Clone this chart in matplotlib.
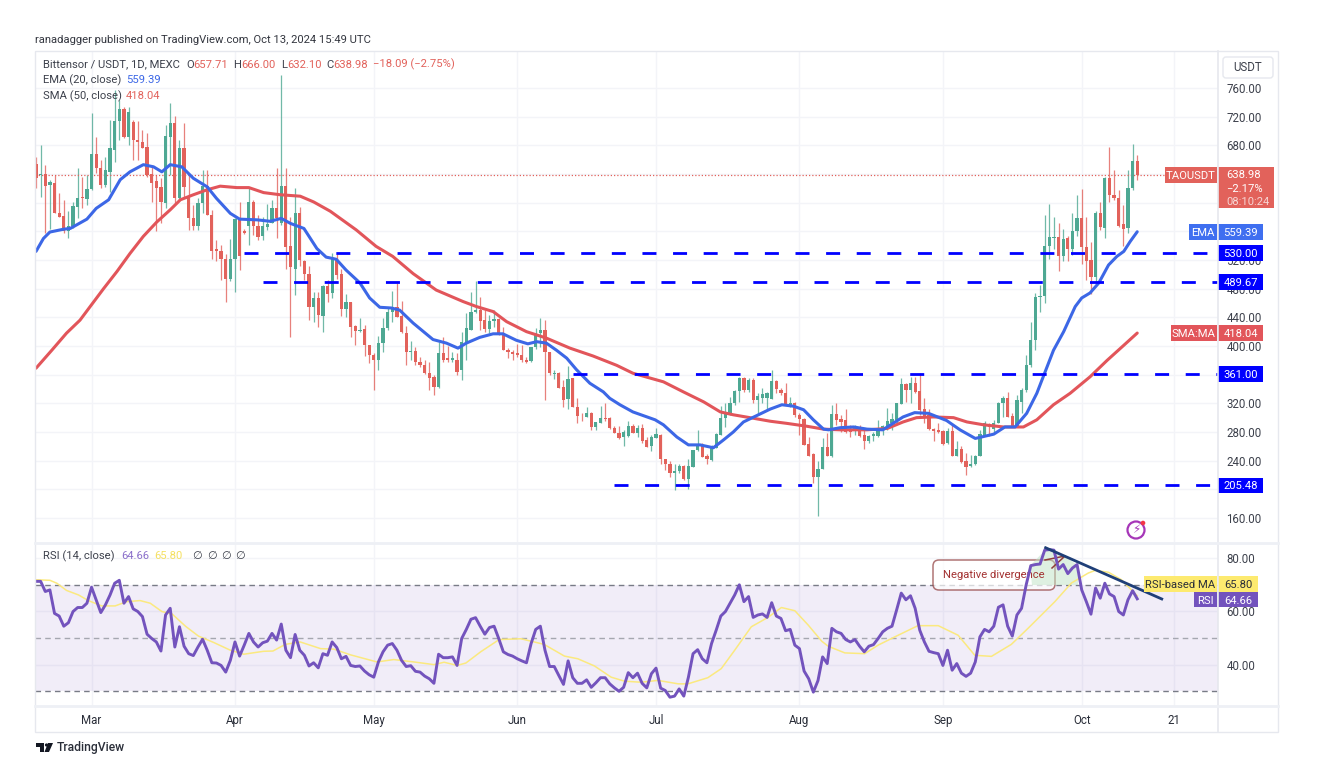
import pandas as pd
import matplotlib
matplotlib.use("Agg")
import matplotlib.pyplot as plt
from matplotlib.patches import Rectangle, FancyBboxPatch, Circle, Polygon
from matplotlib.transforms import blended_transform_factory

plt.rcParams['font.family'] = ['Roboto', 'DejaVu Sans']

start = pd.Timestamp("2024-02-18")

opens = [654,638,640,624,628,585,581,560,567,594,
         608,605,619,668,648,625,643,673,714,730,
         691,713,688,685,677,640,630,622,600,691,
         711,607,676,606,579,568,599,623,583,535,
         533,521,494,521,577,560,568,601,568,553,
         566,571,592,572,623,539,507,586,519,501,
         455,467,442,484,474,520,500,451,461,428,
         421,424,401,388,380,404,425,447,454,442,
         418,392,393,377,374,363,357,343,390,383,
         380,381,366,406,423,447,450,436,424,435,
         437,418,394,392,390,387,381,379,398,418,
         423,391,361,362,343,326,355,315,303,301,
         306,287,293,300,300,286,279,273,274,288,
         279,285,269,260,271,276,243,236,223,225,
         232,215,231,255,261,247,241,258,276,300,
         306,320,337,356,339,352,324,327,327,326,
         351,339,335,318,321,304,298,263,249,217,
         229,259,247,305,298,297,284,283,285,276,
         267,274,274,283,288,293,297,319,347,339,
         349,337,312,304,284,283,281,264,281,247,
         256,239,232,235,246,276,290,284,292,320,
         328,302,288,322,338,374,408,469,470,540,
         550,552,525,550,535,560,578,538,520,496,
         585,564,635,611,607,570,564,620,657.71]
highs = [664,680,653,631,639,613,604,589,601,648,
         636,639,725,692,659,664,715,757,743,734,
         734,715,714,701,697,650,639,634,708,739,
         721,687,711,639,597,606,646,645,590,548,
         541,528,549,578,601,563,620,603,583,580,
         598,604,648,778,649,580,620,594,520,511,
         476,476,485,492,530,529,507,472,461,429,
         439,429,401,390,414,439,455,477,488,463,
         428,407,399,385,381,378,360,406,413,400,
         392,390,420,446,476,490,468,450,443,450,
         439,427,397,394,403,402,385,399,425,439,
         436,392,367,364,353,372,355,327,306,315,
         308,294,316,321,301,288,288,283,295,291,
         290,291,273,276,285,277,243,239,236,235,
         234,243,255,283,264,249,262,279,316,320,
         329,338,357,357,355,355,334,341,336,367,
         353,342,348,329,322,307,299,273,250,239,
         271,278,318,320,304,312,290,290,290,283,
         276,280,297,290,313,306,321,356,349,357,
         357,363,327,312,285,293,283,285,290,268,
         260,250,248,248,283,296,293,297,322,330,
         336,307,332,342,387,433,474,485,583,598,
         580,572,563,553,586,610,619,580,545,588,
         601,636,678,645,618,597,645,682,666]
lows = [620,608,558,563,585,580,558,550,564,578,
        592,597,618,641,620,622,615,657,687,690,
        680,659,660,676,636,601,561,571,592,639,
        599,604,608,562,562,562,585,583,521,518,
        492,462,490,476,506,556,541,555,548,548,
        562,571,550,569,508,413,471,511,492,436,
        434,427,419,462,467,494,442,441,413,401,
        420,386,376,339,367,392,422,434,440,418,
        374,381,374,371,361,339,331,341,378,377,
        377,359,353,381,422,446,422,420,418,427,
        415,394,383,380,385,378,376,378,396,399,
        325,360,354,341,315,312,315,293,296,301,
        283,283,292,296,284,278,270,260,273,278,
        273,265,259,253,271,236,227,217,199,223,
        213,201,231,254,245,236,240,257,276,287,
        304,318,322,336,336,320,304,320,311,326,
        334,332,318,315,301,276,262,246,209,163,
        228,246,245,290,280,279,273,276,273,256,
        265,268,273,276,283,283,292,319,322,320,
        334,304,293,283,268,279,262,263,247,246,
        237,220,231,234,246,274,274,279,292,301,
        301,287,288,307,336,370,394,447,460,521,
        536,504,519,519,527,553,514,492,473,488,
        562,550,601,604,566,539,558,618,632.1]
closes = [635,640,623,629,585,580,560,567,595,607,
          606,619,668,649,624,645,676,714,730,691,
          726,687,685,676,639,628,620,601,693,711,
          607,676,622,578,568,600,623,583,532,532,
          521,494,521,577,525,558,601,568,552,568,
          570,592,578,623,538,510,586,520,500,455,
          467,443,484,472,522,499,451,461,427,421,
          423,401,388,380,404,425,447,455,440,419,
          392,393,377,374,363,356,343,390,381,381,
          383,364,406,425,447,450,435,424,435,438,
          418,395,391,389,387,380,378,398,418,423,
          392,362,362,342,325,354,315,302,302,306,
          287,294,299,298,285,278,272,280,288,279,
          285,267,259,273,277,242,235,223,226,232,
          215,232,255,262,245,242,258,277,300,306,
          320,337,356,338,352,324,330,333,335,351,
          340,334,318,321,304,298,262,247,217,229,
          259,247,305,297,294,280,280,285,274,267,
          274,277,284,288,295,298,320,347,339,349,
          336,311,302,284,282,280,263,281,247,256,
          238,231,235,247,277,292,287,293,320,327,
          301,288,324,339,374,408,469,470,540,552,
          552,525,549,535,560,578,538,519,496,586,
          566,635,610,606,568,563,621,658,638.98]

ema_x = [0,1.6,3,6,7.4,11,13,15.7,18.2,20.3,23.2,25.4,27.2,29,31.5,34,37,39,42,44,47.8,50.6,53,55,
         57.9,60.7,62.7,64.9,67,70,72.1,74.3,76.8,78.6,81.5,85.8,88.7,91.2,93,95.9,98.8,100.9,103.8,
         106.3,108.2,110.3,112.5,114.7,116.8,119.7,122.6,124,126.2,129,133.8,135.6,138.5,141,143.5,
         146.4,148.6,150.7,152.9,155.8,158.7,161.2,163.7,165.9,168,170.2,171.3,173.8,176.7,179.6,183,
         187.4,189.9,192.9,196.8,199.7,203,207,209.4,211.6,214.1,216.3,218.1,219.9,222.1,224.6,226,
         227.8,229.7,231.8,233.6,235.1,236.5,238]
ema_y = [532,550,559,563,564,577,592,604,632,643,653,650,643,653,650,634,622,606,585,577,576,574,578,571,
         564,536,524,521,506,488,467,454,453,450,432,409,404,397,404,412,417,417,408,
         403,406,404,394,383,367,348,336,327,318,308,297,290,273,262,262,
         258,269,280,294,303,312,318,316,311,297,284,283,286,287,284,283,
         301,307,306,296,283,271,277,287,287,306,334,364,394,420,455,467,
         474,488,513,525,532,546,559.39]
sma_x = [0,3.4,6.6,9.5,11.7,14.6,17.5,20.3,23.2,26.1,29,31.2,34,37,39.8,43.4,46,49.2,52.8,57.1,60,63.6,
         69.2,73.5,77.1,81.5,86.5,92.3,95.2,98.8,101.7,106,110.3,115.4,120.4,125.5,129,135.6,139.9,
         144.3,147.9,150.7,154.3,158.7,162.3,166.6,170.2,173.8,179.6,184,187.4,190.3,193.9,198.3,201.2,
         204.8,209.1,213.4,216.3,219.9,223.5,227.8,231.5,235.1,238]
sma_y = [369,394,418,436,455,480,504,529,553,573,590,604,611,618,623,621,621,614,611,609,601,588,
         562,539,525,501,478,462,455,448,434,420,411,397,386,373,362,350,336,
         322,308,304,300,295,292,288,284,283,283,285,294,300,301,300,294,
         290,287,287,297,318,334,357,380,401,418.04]

rsi_vals = [71.2,71.2,67.4,68,59.2,58.2,54.4,55.7,59.9,61.4,
            61.4,63,69,64.3,59.5,62.4,66.1,70.5,71.6,63,
            65.5,60.9,59.9,58,51.4,49.8,48.5,45.1,58.6,61.1,
            46.6,54.2,46.9,44.1,43.4,46.6,49.5,45.4,40.7,40.6,
            39.7,37.2,41.6,48.5,43.2,47.3,51.7,48.5,46.6,48.2,
            48.8,51.7,49.2,55.2,45.4,42.6,51.3,45.4,43.5,39.5,
            40.7,38.8,44.1,43.5,48.5,46.4,42.2,43.1,39.7,39.3,
            39.5,37.6,36.2,35.3,41,44.8,47.3,47.9,45.4,41.6,
            39.3,39.6,37.5,37.2,35.7,34.7,33,43.9,42.6,42.6,
            42.9,39.7,49.8,53.2,57,57.6,54.4,51.4,53.9,54.4,
            49.8,44.8,43.8,43.2,42.2,41.4,40.7,47.9,53.2,54.4,
            45.4,39.3,39.3,35.9,32.6,41.4,35.1,33,33,34.3,
            31.5,33.2,35.1,35.1,32.8,31.3,30,31.5,37,35.1,
            36.8,33,31.3,36.6,38.7,31.2,30.3,27.8,28.2,30.9,
            28.2,35.3,44.1,45.6,42.2,40.7,47.9,52.9,58.2,59.9,
            63,66.1,69.9,63.6,65.5,57.7,58.6,59,57.7,63.2,
            58.2,57.3,52.7,53.2,47.3,46,37.6,34.7,29.7,34,
            42.9,40.4,53.6,52.3,51.7,49.4,48.5,49.4,46.9,44.8,
            46.9,47.5,49.8,52.3,53.6,54.4,60.5,66.8,64.3,65.8,
            61.1,52.9,48.5,45,44.5,44.1,39.7,45.4,37.9,40.4,
            36.8,35.6,36.8,41,50.4,53.2,52.3,54.4,61.5,62.4,
            54.4,50.7,58.6,61.1,69.9,77.1,77.5,77.7,82.9,83.1,
            82.9,75.8,77.5,74.1,76.2,77.5,68,63.6,58.9,68.7,
            64.9,70.5,66.5,65.5,59.9,58.6,64.3,67.7,64.66]
rsi_ma_x = [0,3,4.5,6.6,9.2,11.3,14.2,17.1,19.6,22.5,24.7,27.2,29.4,32.3,35.1,38.4,42,44.9,49.2,51.2,53.9,
            57.1,61.5,64.4,67.9,73.7,77.3,81.7,86,88.2,91,92.9,96.1,100.1,104.8,109.8,114.2,117.1,120.7,
            124.3,127.2,130.8,134.4,138.8,140.9,145.2,148.1,151,154.6,158.2,161.1,164,166.9,169.8,171.2,
            174.8,179.1,182,185.6,190.6,195,199.3,202.9,206.5,210.8,214.4,220.2,223.8,227.4,228.9,231.8,
            234.6,238]
rsi_ma_y = [71.8,71.6,70.5,67.8,66.1,64,62,62,63.6,64,63,59.9,59,54.4,50.7,48.3,45.4,43.9,45,45.1,47.6,
            48.5,46,45.8,43.7,41,41.9,41,40,40.9,39.7,40.6,44.8,49.4,49.7,47.6,43.2,42.2,39.5,
            35.3,33.8,33.4,34.1,32.8,32.8,35.1,38.5,45.4,54.2,57.7,61.4,60.2,54.8,48.8,46.9,
            44.4,44.1,47.3,50.4,54.6,54.6,51,43.5,43.1,47.6,53.6,63.6,70.6,74.3,75.3,74.6,
            71.8,65.8]
trend_x = [218.2,243.3]
trend_y = [83.8,64.6]

levels = [530.00,489.67,361.00,205.48]
level_starts = ["2024-04-03","2024-04-07","2024-06-13","2024-06-22"]
price_ticks = list(range(160,800,40))
hidden_ticks = [200,360,560,600,640]
rsi_ticks = [40,60,80]
month_ticks = ["2024-03-01","2024-04-01","2024-05-01","2024-06-01","2024-07-01","2024-08-01","2024-09-01","2024-10-01","2024-10-21"]
month_labels = ["Mar","Apr","May","Jun","Jul","Aug","Sep","Oct","21"]

GREEN = "#4ea893"
RED = "#e2625b"
BLUE = "#3c67e6"
SMARED = "#e2555a"
GRID = "#f3f4f8"
TXT = "#3d414c"
FS = 8.1
W, H = 1322, 764

def box(l, t, r, b):
    return [l/W, 1-b/H, (r-l)/W, (b-t)/H]

def day(s):
    return (pd.Timestamp(s)-start).days

fig = plt.figure(figsize=(W/100, H/100), dpi=100, facecolor="white")
ax = fig.add_axes(box(35, 52, 1218, 542))
rsi = fig.add_axes(box(35, 544, 1218, 706), sharex=ax)
over = fig.add_axes([0, 0, 1, 1], zorder=10)
over.set_xlim(0, W)
over.set_ylim(H, 0)
over.axis("off")
over.patch.set_alpha(0)

n = len(closes)
xs = list(range(n))
up = [c >= o for o, c in zip(opens, closes)]
cols = [GREEN if u else RED for u in up]
ax.vlines(xs, lows, highs, colors=cols, lw=0.9, alpha=0.8, zorder=2)
ax.bar(xs, [abs(c-o) for o, c in zip(opens, closes)], bottom=[min(o, c) for o, c in zip(opens, closes)],
       width=0.7, color=cols, zorder=3)
ax.plot(sma_x, sma_y, color=SMARED, lw=2.2, zorder=4, solid_capstyle="round")
ax.plot(ema_x, ema_y, color=BLUE, lw=2.2, zorder=5, solid_capstyle="round")
ax.axhline(closes[-1], color=RED, lw=0.9, ls=(0, (1, 1.6)), zorder=2)
for lv, st in zip(levels, level_starts):
    ax.hlines(lv, day(st), 256, color="#0000ff", lw=2, linestyles=[(0, (5.04, 5.98))], zorder=6)

ax.set_ylim(126.5, 810.2)
ax.set_xlim(-0.22, (1218-36)/4.627)
ax.set_yticks(price_ticks)
# these labels are fully covered by the price tags in the picture
ax.set_yticklabels(["" if t in hidden_ticks else "%.2f" % t for t in price_ticks])

rsi.axhspan(30, 70, color="#9575cd", alpha=0.13, lw=0, zorder=1)
rsi.axhline(70, color="#787b86", lw=1, ls=(0, (4, 3)), zorder=2)
rsi.axhline(50, color="#a5a7b0", lw=1, ls=(0, (4, 3)), zorder=2)
rsi.axhline(30, color="#787b86", lw=1, ls=(0, (4, 3)), zorder=2)
rsi.plot(rsi_ma_x, rsi_ma_y, color="#fbe97f", lw=1.1, zorder=5)
rsi.plot(xs, rsi_vals, color="#7353bd", lw=2.1, zorder=6)
rsi.plot(trend_x, trend_y, color="#1f3f78", lw=2, zorder=7)
rsi.set_ylim(24.5, 85.2)
rsi.set_yticks(rsi_ticks)
rsi.set_yticklabels(["%.2f" % t for t in rsi_ticks])
rsi.set_xticks([day(m) for m in month_ticks])
rsi.set_xticklabels(month_labels)

for a in (ax, rsi):
    a.grid(True, color=GRID, lw=1)
    a.set_axisbelow(True)
    a.yaxis.tick_right()
    a.tick_params(axis="both", length=0, labelsize=FS+0.2, labelcolor=TXT, pad=6)
    for s in a.spines.values():
        s.set_visible(False)
ax.tick_params(axis="x", labelbottom=False)
rsi.tick_params(axis="x", pad=6, labelcolor="#2a2e39")

# frame and pane separators
over.add_patch(Rectangle((35, 51), 1243, 681, fill=False, ec="#e6e8ee", lw=1))
over.plot([1218, 1218], [51, 732], color="#e6e8ee", lw=1.2)
over.plot([35, 1278], [543, 543], color="#eef0f5", lw=2)
over.plot([35, 1278], [706, 706], color="#eef0f5", lw=2)

# price tags sit at their values on the right axis
pt = blended_transform_factory(over.transData, ax.transData)

def tag(tr, y, half, x0, x1, color, text, tcolor="white", size=FS):
    over.add_patch(Rectangle((x0, y-half), x1-x0, 2*half, transform=tr, fc=color, ec="none"))
    over.text((x0+x1)/2, y, text, transform=tr, color=tcolor, ha="center", va="center_baseline", fontsize=size)

h = 7.8/0.7167
tag(pt, closes[-1], h, 1165, 1217, RED, "TAOUSDT")
over.add_patch(Rectangle((1218, 167), 56, 41, fc=RED, ec="none"))
over.text(1226, 174.5, "638.98", color="white", fontsize=FS, va="center_baseline")
over.text(1226, 188, "\u22122.17%", color="white", fontsize=FS, va="center_baseline")
over.text(1226, 201, "08:10:24", color="#f6d5d3", fontsize=FS, va="center_baseline")
tag(pt, ema_y[-1], h, 1189, 1217, "#3f6ff0", "EMA")
tag(pt, ema_y[-1], h, 1218, 1263, "#3f6ff0", "559.39")
tag(pt, levels[0], h, 1218, 1263, "#0000ff", "530.00")
tag(pt, levels[1], h, 1218, 1263, "#0000ff", "489.67")
tag(pt, levels[2], h, 1218, 1263, "#0000ff", "361.00")
tag(pt, levels[3], h, 1218, 1263, "#0000ff", "205.48")
tag(pt, sma_y[-1], h, 1171, 1217, SMARED, "SMA:MA")
tag(pt, sma_y[-1], h, 1218, 1263, SMARED, "418.04")

# the two RSI tags push each other apart, so the MA one sits above its value
tag(over.transData, 583.8, 7.8, 1144, 1217, "#fdea6f", "RSI-based MA", tcolor="#2a2e39")
tag(over.transData, 583.8, 7.8, 1218, 1258, "#fdea6f", "65.80", tcolor="#2a2e39")
tag(over.transData, 599.6, 7.8, 1194, 1217, "#7353bd", "RSI")
tag(over.transData, 599.6, 7.8, 1218, 1258, "#7353bd", "64.66")

# USDT button
over.add_patch(FancyBboxPatch((1223, 57), 50, 21, boxstyle="round,pad=0,rounding_size=3", fc="white", ec="#e6e8ee", lw=1))
over.text(1248, 67.5, "USDT", color=TXT, fontsize=FS+0.2, ha="center", va="center")

# header text
over.text(35, 40, "ranadagger published on TradingView.com, Oct 13, 2024 15:49 UTC", color="#33363f", fontsize=FS, va="center")
over.text(43, 64.5, "Bittensor / USDT, 1D, MEXC", color=TXT, fontsize=FS, va="center")
for x, t, c in [(186, "O", TXT), (193, "657.71", RED), (233, "H", TXT), (241, "666.00", RED), (281, "L", TXT), (287, "632.10", RED),
                (326, "C", TXT), (333, "638.98", RED), (373, "\u221218.09 (\u22122.75%)", RED)]:
    over.text(x, 64.5, t, color=c, fontsize=FS, va="center")
over.text(43, 80, "EMA (20, close)", color=TXT, fontsize=FS, va="center")
over.text(126, 80, "559.39", color=BLUE, fontsize=FS, va="center")
over.text(43, 96, "SMA (50, close)", color=TXT, fontsize=FS, va="center")
over.text(126, 96, "418.04", color=RED, fontsize=FS, va="center")
over.text(43, 556, "RSI (14, close)", color=TXT, fontsize=FS, va="center")
over.text(121, 556, "64.66", color="#8a6fca", fontsize=FS, va="center")
over.text(154, 556, "65.80", color="#f5e05f", fontsize=FS, va="center")
for x in (192, 207, 221, 235):
    over.text(x, 556, "\u2205", color=TXT, fontsize=8, va="center", family=['DejaVu Sans'])

# callout goes under the RSI line, so it is added to the RSI axes in pixel coordinates
rsi.add_patch(FancyBboxPatch((933, 560), 122, 30, boxstyle="round,pad=0,rounding_size=6", transform=over.transData,
                             fc="white", ec="#8f3b3b", lw=1.1, alpha=0.7, zorder=3))
rsi.add_patch(Polygon([(1030, 566), (1046, 549), (1055, 550), (1068, 558), (1078, 566), (1078, 585), (1032, 585)],
                      transform=over.transData, fc="#bfe3c4", ec="none", alpha=0.5, zorder=4))
rsi.plot([1045, 1065, 1052], [560, 556, 568], color="#8f3b3b", lw=1.1, transform=over.transData, zorder=4)
rsi.text(994, 574.5, "Negative divergence", color="#a33232", fontsize=FS, ha="center", va="center",
         transform=over.transData, zorder=4.5)

# bolt badge
over.add_patch(Circle((1136, 530), 8.5, fc="white", ec="#a636b8", lw=1.6))
over.text(1136, 530, "\u26a1", color="#a636b8", fontsize=8.5, ha="center", va="center", family=['DejaVu Sans'])
over.add_patch(Circle((1143, 523), 2.3, fc="#f23645", ec="none"))

# TradingView mark
over.add_patch(Polygon([(36, 743), (44, 743), (44, 752), (40, 752), (40, 747), (36, 747)], fc="#131722", ec="none"))
over.add_patch(Circle((46.5, 745), 1.6, fc="#131722", ec="none"))
over.add_patch(Polygon([(48, 743), (53, 743), (49, 752), (44.5, 752)], fc="#131722", ec="none"))
over.text(57, 747.5, "TradingView", color="#2a2e39", fontsize=8.7, weight="medium", va="center")

plt.savefig("out.png", dpi=100)
